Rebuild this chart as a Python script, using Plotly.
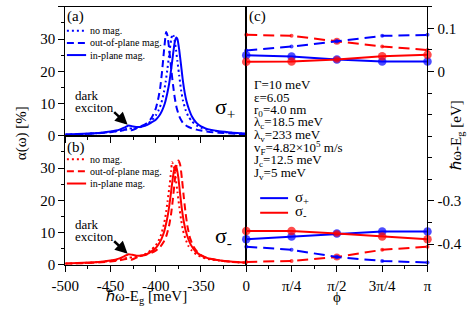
import math
import plotly.graph_objects as go

# ---------------- data: panel (a) sigma+ spectra ----------------
a_nomag_E = [-500, -480, -460, -450, -440, -435, -430, -425, -420, -415, -410, -405, -400, -397, -394, -391, -389, -387, -385, -383, -381.5, -380, -378, -376, -374, -372, -370, -367, -364, -360, -355, -350, -345, -340, -330, -320, -310, -300]
a_nomag_alpha = [0.35, 0.55, 0.9, 1.2, 1.6, 2.0, 2.2, 2.3, 2.5, 2.9, 3.5, 4.6, 6.3, 7.8, 10.0, 13.5, 16.8, 21.0, 25.5, 29.8, 31.5, 30.8, 27.5, 23.0, 18.5, 14.2, 11.0, 8.0, 6.0, 4.5, 3.2, 2.5, 2.0, 1.7, 1.3, 1.0, 0.8, 0.6]

a_outplane_E = [-500, -480, -460, -450, -440, -435, -430, -427, -423, -419, -415, -410, -406, -403, -400, -397, -395, -393, -391, -389, -388.5, -387, -385, -383, -381, -379, -377, -374, -370, -365, -360, -355, -350, -340, -330, -320, -310, -300]
a_outplane_alpha = [0.3, 0.5, 0.85, 1.1, 1.5, 1.8, 2.0, 1.7, 2.1, 2.7, 3.1, 3.9, 5.0, 6.4, 8.4, 11.8, 15.0, 20.0, 26.0, 31.5, 32.2, 31.0, 26.5, 21.0, 16.0, 11.8, 8.8, 6.0, 4.0, 2.9, 2.3, 1.9, 1.6, 1.2, 0.95, 0.75, 0.6, 0.5]

a_inplane_E = [-500, -480, -460, -450, -440, -435, -430, -425, -420, -415, -410, -405, -400, -396, -393, -390, -387, -385, -383, -381, -379, -377.3, -376, -374, -372, -370, -368, -366, -363, -360, -355, -350, -345, -340, -330, -320, -310, -300]
a_inplane_alpha = [0.4, 0.6, 0.95, 1.3, 1.9, 2.5, 3.2, 2.9, 2.7, 2.9, 3.3, 4.1, 5.0, 6.3, 7.8, 10.0, 13.5, 16.5, 20.5, 25.0, 29.0, 30.5, 30.0, 26.5, 21.8, 17.0, 13.4, 10.7, 8.0, 6.0, 4.0, 2.9, 2.3, 1.9, 1.4, 1.1, 0.85, 0.7]

# ---------------- data: panel (b) sigma- spectra ----------------
b_nomag_E = [-500, -480, -460, -450, -440, -435, -430, -425, -420, -415, -410, -405, -400, -397, -394, -391, -389, -387, -385, -383, -382, -380, -378, -376, -374, -372, -370, -367, -364, -360, -355, -350, -345, -340, -330, -320, -310, -300]
b_nomag_alpha = [0.35, 0.55, 0.9, 1.2, 1.6, 2.0, 2.2, 2.3, 2.5, 2.9, 3.5, 4.6, 6.0, 7.4, 9.4, 12.5, 15.5, 19.5, 24.0, 29.0, 31.8, 30.5, 27.0, 22.5, 18.0, 14.0, 10.8, 7.9, 5.9, 4.4, 3.2, 2.5, 2.0, 1.7, 1.3, 1.0, 0.8, 0.6]

b_outplane_E = [-500, -480, -460, -450, -440, -435, -430, -427, -423, -419, -415, -410, -405, -400, -395, -391, -388, -385, -383, -381, -379, -377, -375, -373, -371, -369, -367, -365, -362, -358, -354, -350, -345, -340, -330, -320, -310, -300]
b_outplane_alpha = [0.3, 0.5, 0.8, 1.05, 1.4, 1.7, 1.9, 1.6, 2.0, 2.5, 2.8, 3.2, 3.7, 4.4, 5.6, 7.2, 9.2, 12.5, 15.8, 20.5, 26.0, 30.8, 32.3, 31.0, 26.5, 21.0, 16.0, 12.0, 8.2, 5.5, 4.0, 3.0, 2.3, 1.9, 1.35, 1.0, 0.8, 0.65]

b_inplane_E = [-500, -480, -460, -450, -440, -435, -430, -426, -421, -416, -410, -405, -400, -397, -394, -391, -388, -386, -384, -382, -380, -378.3, -377, -375, -373, -371, -369, -367, -364, -361, -356, -350, -345, -340, -330, -320, -310, -300]
b_inplane_alpha = [0.4, 0.6, 0.95, 1.3, 2.0, 2.6, 3.3, 3.1, 2.8, 2.9, 3.3, 4.1, 5.2, 6.3, 7.8, 10.0, 13.5, 16.5, 20.5, 25.0, 29.0, 30.7, 30.0, 27.0, 21.8, 17.0, 13.4, 10.7, 8.0, 6.1, 4.1, 2.9, 2.3, 1.9, 1.4, 1.1, 0.85, 0.7]

# ---------------- data: panel (c) energies vs phi ----------------
phi = [0, math.pi / 4, math.pi / 2, 3 * math.pi / 4, math.pi]
phi_labels = ["0", "π/4", "π/2", "3π/4", "π"]
up_bright_sp = [0.0376, 0.0346, 0.0278, 0.0233, 0.0233]
up_bright_sm = [0.0226, 0.0233, 0.0278, 0.0353, 0.0390]
up_dark_sp = [0.049, 0.058, 0.070, 0.0827, 0.085]
up_dark_sm = [0.085, 0.0827, 0.070, 0.058, 0.050]
lo_bright_sp = [-0.3885, -0.3825, -0.3757, -0.371, -0.371]
lo_bright_sm = [-0.3697, -0.3697, -0.3757, -0.3825, -0.3885]
lo_dark_sp = [-0.4059, -0.4133, -0.430, -0.439, -0.4428]
lo_dark_sm = [-0.4413, -0.439, -0.430, -0.4133, -0.4059]

energy_ticks = [-500, -450, -400, -350, -300]
energy_labels = ["-500", "-450", "-400", "-350", ""]
alpha_ticks = [0, 10, 20, 30, 40]
eV_ticks = [0.1, 0, -0.3, -0.4]
eV_labels = ["0.1", "0", "-0.3", "-0.4"]
eV_minor = [0.15, 0.05, -0.05, -0.1, -0.15, -0.2, -0.25, -0.35]

params_text = ["Γ=10 meV", "ε=6.05", "r<sub>0</sub>=4.0 nm", "λ<sub>c</sub>=18.5 meV",
               "λ<sub>v</sub>=233 meV", "v<sub>F</sub>=4.82×10<sup>5</sup> m/s",
               "J<sub>c</sub>=12.5 meV", "J<sub>v</sub>=5 meV"]
legend_names = ["no mag.", "out-of-plane mag.", "in-plane mag."]

# ---------------- layout helpers ----------------
W, H = 469, 315
def px(x):
    return x / W
def py(y):
    return 1 - y / H

BLUE = "#0000ff"
RED = "#ff0000"
SERIF = "Liberation Serif, Times New Roman, serif"
DOT = "2px,3px"
DASH = "7px,4px"
LDASH = "11px,6px"
LW = 2

fig = go.Figure()

def spec(x, y, color, dash, xa, ya):
    fig.add_trace(go.Scatter(x=x, y=y, mode="lines", xaxis=xa, yaxis=ya, showlegend=False,
                             line=dict(color=color, width=LW, dash=dash, shape="spline", smoothing=0.5),
                             hoverinfo="skip"))

spec(a_nomag_E, a_nomag_alpha, BLUE, DOT, "x", "y")
spec(a_outplane_E, a_outplane_alpha, BLUE, DASH, "x", "y")
spec(a_inplane_E, a_inplane_alpha, BLUE, "solid", "x", "y")
spec(b_nomag_E, b_nomag_alpha, RED, DOT, "x2", "y2")
spec(b_outplane_E, b_outplane_alpha, RED, DASH, "x2", "y2")
spec(b_inplane_E, b_inplane_alpha, RED, "solid", "x2", "y2")

def branch(y, color, dash, sizes):
    fig.add_trace(go.Scatter(x=phi, y=y, mode="lines+markers", xaxis="x3", yaxis="y3", showlegend=False,
                             line=dict(color=color, width=LW, dash=dash),
                             marker=dict(color=color, size=sizes, line=dict(width=0)),
                             cliponaxis=False, hoverinfo="skip"))

big = [8.5, 8.5, 8.5, 8.5, 8.5]
big_in = [8.5, 8.5, 6.5, 8.5, 8.5]
small_out = [4, 4, 7, 4, 4]
small_in = [4, 4, 4.5, 4, 4]
branch(up_bright_sp, BLUE, "solid", big)
branch(up_bright_sm, RED, "solid", big_in)
branch(up_dark_sm, RED, LDASH, small_out)
branch(up_dark_sp, BLUE, LDASH, small_in)
branch(lo_bright_sp, BLUE, "solid", big)
branch(lo_bright_sm, RED, "solid", big_in)
branch(lo_dark_sm, RED, LDASH, small_out)
branch(lo_dark_sp, BLUE, LDASH, small_in)

tickfont = dict(family=SERIF, size=15, color="black")
common = dict(showline=True, linecolor="black", linewidth=1, ticks="outside", ticklen=6,
              tickwidth=1, tickcolor="black", showgrid=False, zeroline=False, tickfont=tickfont)

left_dom = [px(53.3), px(241.5)]
right_dom = [px(241.5), px(430)]
a_dom = [py(139.3), py(7)]
b_dom = [py(271.7), py(139.3)]
c_dom = [py(271.7), py(7)]

minor_e = dict(dtick=25, ticklen=3.5, tickcolor="black", ticks="outside", showgrid=False)
minor_a = dict(dtick=5, ticklen=3.5, tickcolor="black", ticks="outside", showgrid=False)

fig.update_layout(
    width=W, height=H, margin=dict(l=0, r=0, t=0, b=0), autosize=False,
    paper_bgcolor="white", plot_bgcolor="white", showlegend=False,
    xaxis=dict(domain=left_dom, anchor="y", range=[-500, -300], tickmode="array", tickvals=energy_ticks,
               showticklabels=False, mirror=True, minor=minor_e, **common),
    yaxis=dict(domain=a_dom, anchor="x", range=[0, 40], tickmode="array", tickvals=alpha_ticks,
               mirror=True, minor=minor_a, **common),
    xaxis2=dict(domain=left_dom, anchor="y2", range=[-500, -300], tickmode="array", tickvals=energy_ticks,
                ticktext=energy_labels, mirror=True, minor=minor_e, ticklabelstandoff=1, **common),
    yaxis2=dict(domain=b_dom, anchor="x2", range=[0, 40], tickmode="array", tickvals=alpha_ticks,
                ticktext=["0", "10", "20", "30", ""], mirror=True, minor=minor_a, **common),
    xaxis3=dict(domain=right_dom, anchor="y3", range=[0, math.pi], tickmode="array", tickvals=phi,
                ticktext=phi_labels, mirror=True, ticklabelstandoff=1,
                minor=dict(tickmode="array", tickvals=[math.pi * k / 8 for k in (1, 3, 5, 7)], ticklen=3.5,
                           tickcolor="black", ticks="outside", showgrid=False), **common),
    yaxis3=dict(domain=c_dom, anchor="x3", side="right", range=[-0.448, 0.15], tickmode="array",
                tickvals=eV_ticks, ticktext=eV_labels, mirror=True,
                minor=dict(tickmode="array", tickvals=eV_minor, ticklen=3.5, tickcolor="black",
                           ticks="outside", showgrid=False), **common),
)

ann = []
def text(x, y, s, size, xanchor="left", yanchor="middle", angle=0):
    ann.append(dict(x=px(x), y=py(y), xref="paper", yref="paper", text=s, showarrow=False,
                    xanchor=xanchor, yanchor=yanchor, textangle=angle, borderpad=0,
                    font=dict(family=SERIF, size=size, color="black")))

# axis titles
text(8, 137, "α(ω) [%]", 15, xanchor="center", angle=-90)
text(138, 315, "ℏω-E<sub>g</sub> [meV]", 15, xanchor="center", yanchor="bottom")
text(336, 314, "ϕ", 15, xanchor="center", yanchor="bottom")
text(461, 138, "ℏω-E<sub>g</sub> [eV]", 15, xanchor="center", angle=-90)

# panel labels
text(54, 17, "(a)", 15)
text(54, 151, "(b)", 15)
text(243, 17, "(c)", 15)

# sigma labels
text(208, 111, "σ<sub>+</sub>", 22)
text(208, 243, "σ<sub>-</sub>", 22)

# dark exciton labels
text(62, 98, "dark", 13)
text(62, 110, "exciton", 13)
text(62, 230, "dark", 13)
text(62, 243, "exciton", 13)

ann.append(dict(x=-431, y=3.4, xref="x", yref="y", ax=-15, ay=-14, axref="pixel", ayref="pixel",
                text="", showarrow=True, arrowhead=2, arrowsize=1, arrowwidth=2.5, arrowcolor="black"))
ann.append(dict(x=-431, y=3.4, xref="x2", yref="y2", ax=-15, ay=-14, axref="pixel", ayref="pixel",
                text="", showarrow=True, arrowhead=2, arrowsize=1, arrowwidth=2.5, arrowcolor="black"))

# parameter block
for i, s in enumerate(params_text):
    text(249, 87 + 13 * i, s, 13)

# legends (left panels)
shapes = []
def legline(x0, x1, y, color, dash):
    shapes.append(dict(type="line", xref="paper", yref="paper", x0=px(x0), x1=px(x1), y0=py(y), y1=py(y),
                       line=dict(color=color, width=LW, dash=dash)))

for (y0, color) in ((31.5, BLUE), (163.3, RED)):
    for k, (name, dash) in enumerate(zip(legend_names, [DOT, DASH, "solid"])):
        yy = y0 + 12.5 * k
        legline(55, 75, yy, color, dash)
        text(78, yy, name, 10)

# legend panel (c)
legline(256, 285, 203.3, BLUE, "solid")
legline(256, 285, 218.3, RED, "solid")
text(291, 203, "σ<sub>+</sub>", 15)
text(291, 218, "σ<sub>-</sub>", 15)

fig.update_layout(annotations=ann, shapes=shapes)
fig.write_html("out.html", config={"displayModeBar": False},
               post_script="document.body.style.margin='0';document.body.style.padding='0';"
                           "document.documentElement.style.margin='0';")
